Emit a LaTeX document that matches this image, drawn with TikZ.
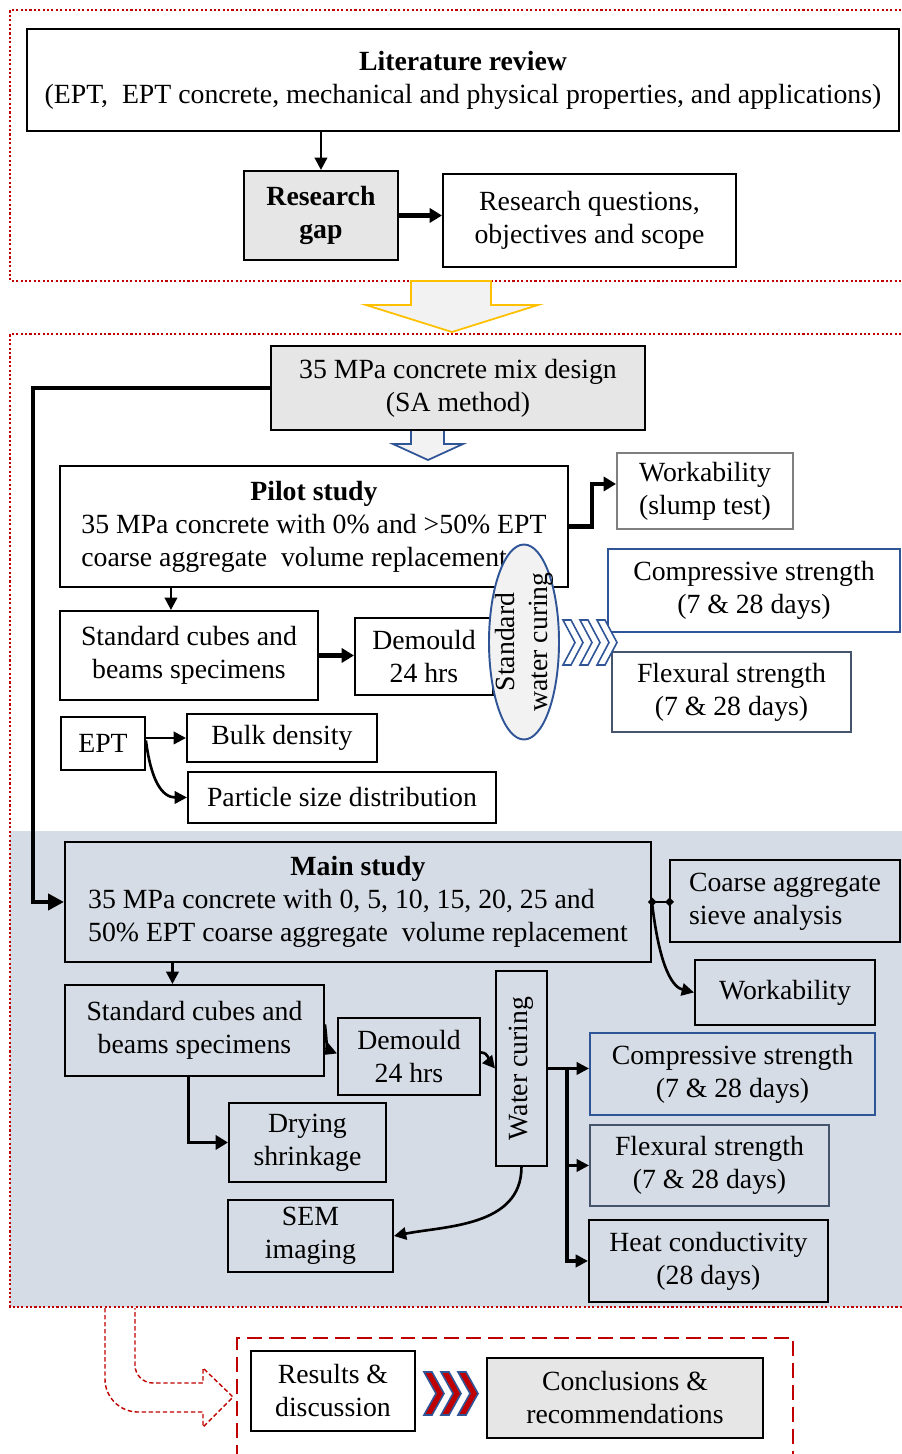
\documentclass[tikz,border=0pt]{standalone}
\usepackage{fontspec}
\setmainfont{Liberation Serif}
\usepackage{xcolor}
\usetikzlibrary{arrows.meta, positioning, shapes.geometric, calc}

\definecolor{redline}{HTML}{C00000}
\definecolor{bluebox}{HTML}{2F5597}
\definecolor{slate}{HTML}{44546A}
\definecolor{graybox}{HTML}{E7E6E6}
\definecolor{mainbg}{HTML}{D6DCE5}
\definecolor{amber}{HTML}{FFC000}
\definecolor{lightfill}{HTML}{F2F2F2}
\definecolor{greyline}{HTML}{7F7F7F}

\newdimen\pxu \pxu=0.02cm
\newcommand{\fs}{\fontsize{15.8}{18.8}\selectfont}

\begin{document}
\begin{tikzpicture}[x=1\pxu, y=-1\pxu,
        box/.style={rectangle, draw=black, line width=1.1pt, fill=white, align=center, anchor=north west, inner sep=1pt, font=\fs},
        gbox/.style={box, fill=graybox},
        mbox/.style={box, fill=mainbg},
        bbox/.style={box, draw=bluebox},
        sbox/.style={box, draw=slate},
        arr/.style={-{Triangle[length=7pt, width=7pt]}, line width=1.5pt},
        tarr/.style={-{Triangle[length=7pt, width=8pt]}, line width=2.4pt},
        zone/.style={draw=redline, line width=1.3pt, dash pattern=on 1.2pt off 1.3pt},
        chev/.style={draw=bluebox, line width=0.9pt, line join=miter}
    ]
        \useasboundingbox (0,0) rectangle (902,1454);

        % zones
        \fill[mainbg] (10,831) rectangle (910,1307);
        \draw[zone] (910,10) -- (10,10) -- (10,281) -- (910,281);
        \draw[zone] (910,334) -- (10,334) -- (10,1307) -- (910,1307);
        \draw[redline, line width=1.6pt, dash pattern=on 8.5pt off 4pt] (237,1460) -- (237,1338) -- (793,1338) -- (793,1460);

        % hollow arrows between stages
        \draw[amber, fill=lightfill, line width=1pt] (411,281) -- (491,281) -- (491,305) -- (538,305) -- (452,332) -- (366,305) -- (411,305) -- cycle;
        \draw[bluebox, fill=lightfill, line width=1pt] (411,429) -- (444,429) -- (444,444) -- (463,444) -- (428,460) -- (393,444) -- (411,444) -- cycle;

        % literature stage
        \node[box, minimum width=872\pxu, minimum height=102\pxu] (lit) at (26,28) {\textbf{Literature review}\\(EPT,\ \ EPT concrete, mechanical and physical properties, and applications)};
        \node[gbox, minimum width=154\pxu, minimum height=89\pxu] (gap) at (243,170) {\textbf{Research}\\\textbf{gap}};
        \node[box, minimum width=293\pxu, minimum height=93\pxu] (rq) at (442,173) {Research questions,\\objectives and scope};

        \draw[arr] (lit.south -| gap.north) -- (gap.north);
        \draw[tarr] (gap.east) -- (gap.east -| rq.west);

        % pilot study
        \node[gbox, minimum width=374\pxu, minimum height=84\pxu] (mix) at (270,345) {35 MPa concrete mix design\\(SA method)};
        \node[box, minimum width=508\pxu, minimum height=121\pxu] (pilot) at (59,465) {\begin{tabular}{@{}l@{}}\multicolumn{1}{c}{\textbf{Pilot study}}\\35 MPa concrete with 0\% and >50\% EPT\\coarse aggregate\ \ volume replacement\end{tabular}};
        \node[box, draw=greyline, minimum width=176\pxu, minimum height=76\pxu] (workp) at (616,452) {Workability\\(slump test)};
        \node[bbox, minimum width=292\pxu, minimum height=83\pxu] (compp) at (607,548) {Compressive strength\\(7 \& 28 days)};
        \node[sbox, minimum width=239\pxu, minimum height=80\pxu] (flexp) at (611,651) {Flexural strength\\(7 \& 28 days)};
        \node[box, minimum width=258\pxu, minimum height=89\pxu] (cubesp) at (59,610) {Standard cubes and\\beams specimens};
        \node[box, minimum width=138\pxu, minimum height=77\pxu] (demp) at (354,617) {Demould\\24 hrs};
        \node[ellipse, draw=bluebox, fill=lightfill, line width=1.1pt, minimum width=70\pxu, minimum height=195\pxu, inner sep=0pt,
            label={[rotate=90, align=center, font=\fs]center:Standard\\water curing}] (curep) at (524,642) {};
        \node[box, minimum width=84\pxu, minimum height=53\pxu] (ept) at (60,716) {EPT};
        \node[box, minimum width=190\pxu, minimum height=48\pxu] (bulk) at (186,713) {Bulk density};
        \node[box, minimum width=308\pxu, minimum height=51\pxu] (psd) at (187,771) {Particle size distribution};

        \foreach \cx in {563,580,597}
            \draw[chev, fill=white] (\cx,620) -- ++(8,0) -- ++(12,22.5) -- ++(-12,22.5) -- ++(-8,0) -- ++(12,-22.5) -- cycle;

        \draw[tarr] (pilot.east) -- ++(23,0) |- ([yshift=7\pxu]workp.west);
        \draw[arr] ([xshift=-18\pxu]pilot.south -| cubesp.north) -- ([xshift=-18\pxu]cubesp.north);
        \draw[tarr] (cubesp.east) -- (cubesp.east -| demp.west);
        \draw[arr] (ept.east |- bulk.west) -- (bulk.west);
        \draw[arr] ([yshift=3\pxu]ept.east) .. controls +(5,40) and +(-25,0) .. (psd.west);

        % main study
        \node[mbox, minimum width=586\pxu, minimum height=120\pxu] (main) at (64,841) {\begin{tabular}{@{}l@{}}\multicolumn{1}{c}{\textbf{Main study}}\\35 MPa concrete with 0, 5, 10, 15, 20, 25 and\\50\% EPT coarse aggregate\ \ volume replacement\end{tabular}};
        \node[mbox, minimum width=230\pxu, minimum height=82\pxu] (coarse) at (669,859) {\begin{tabular}{@{}l@{}}Coarse aggregate\\sieve analysis\end{tabular}};
        \node[mbox, minimum width=180\pxu, minimum height=65\pxu] (workm) at (694,959) {Workability};
        \node[mbox, minimum width=259\pxu, minimum height=91\pxu] (cubesm) at (64,984) {Standard cubes and\\beams specimens};
        \node[mbox, minimum width=142\pxu, minimum height=77\pxu] (demm) at (337,1017) {Demould\\24 hrs};
        \node[mbox, minimum width=51\pxu, minimum height=195\pxu,
            label={[rotate=90, font=\fs]center:Water curing}] (wcm) at (495,970) {};
        \node[mbox, draw=bluebox, minimum width=285\pxu, minimum height=82\pxu] (compm) at (589,1032) {Compressive strength\\(7 \& 28 days)};
        \node[mbox, draw=slate, minimum width=239\pxu, minimum height=81\pxu] (flexm) at (589,1124) {Flexural strength\\(7 \& 28 days)};
        \node[mbox, minimum width=239\pxu, minimum height=82\pxu] (heat) at (588,1219) {Heat conductivity\\(28 days)};
        \node[mbox, minimum width=157\pxu, minimum height=79\pxu] (dry) at (228,1102) {Drying\\shrinkage};
        \node[mbox, minimum width=165\pxu, minimum height=72\pxu] (sem) at (227,1199) {SEM\\imaging};
        \coordinate (wcbus) at ($(wcm.east)+(19,0)$);

        \draw[-{Triangle[length=9pt, width=9pt]}, line width=2.6pt] (mix.west) -| ([xshift=-31\pxu]main.west) -- (main.west);
        \draw[{Diamond[length=5pt, width=5pt]}-{Diamond[length=5pt, width=5pt]}, line width=1.5pt] ([xshift=-4\pxu]main.east) -- ([xshift=5\pxu]main.east -| coarse.west);
        \draw[arr] (main.east) .. controls +(8,70) and +(-20,-5) .. (workm.west);
        \draw[arr] ([xshift=-22\pxu]main.south -| cubesm.north) -- ([xshift=-22\pxu]cubesm.north);
        \draw[arr] ([yshift=6\pxu]cubesm.east) .. controls +(2,18) and +(-10,-4) .. ([yshift=3\pxu]demm.west);
        \draw[arr] ([yshift=4\pxu]demm.east) .. controls +(8,0) and +(-5,-6) .. (wcm.west);
        \draw[arr] (wcm.east) -- (wcm.east -| compm.west);
        \draw[arr, line width=1.9pt] (wcbus) |- (heat.west);
        \draw[arr] (wcbus |- flexm.west) -- (flexm.west);
        \draw[tarr, line width=2pt] ([xshift=-6\pxu]cubesm.south) |- (dry.west);
        \draw[arr] (wcm.south) .. controls +(0,60) and +(50,-10) .. (sem.east);

        % closing stage
        \draw[redline, line width=0.8pt, dash pattern=on 2.5pt off 1.5pt] (105,1308) [rounded corners=0.66cm] -- (105,1412) [sharp corners] -- (203,1412) -- (203,1427) -- (233,1397) -- (203,1368) -- (203,1383) [rounded corners=0.36cm] -- (135,1383) [sharp corners] -- (135,1308);
        \node[box, minimum width=164\pxu, minimum height=80\pxu] (res) at (250,1350) {Results \&\\discussion};
        \node[gbox, minimum width=276\pxu, minimum height=80\pxu] (conc) at (486,1357) {Conclusions \&\\recommendations};
        \foreach \cx in {424,441,458}
            \draw[chev, fill=redline] (\cx,1372) -- ++(8,0) -- ++(12,21.5) -- ++(-12,21.5) -- ++(-8,0) -- ++(12,-21.5) -- cycle;
    \end{tikzpicture}
\end{document}
